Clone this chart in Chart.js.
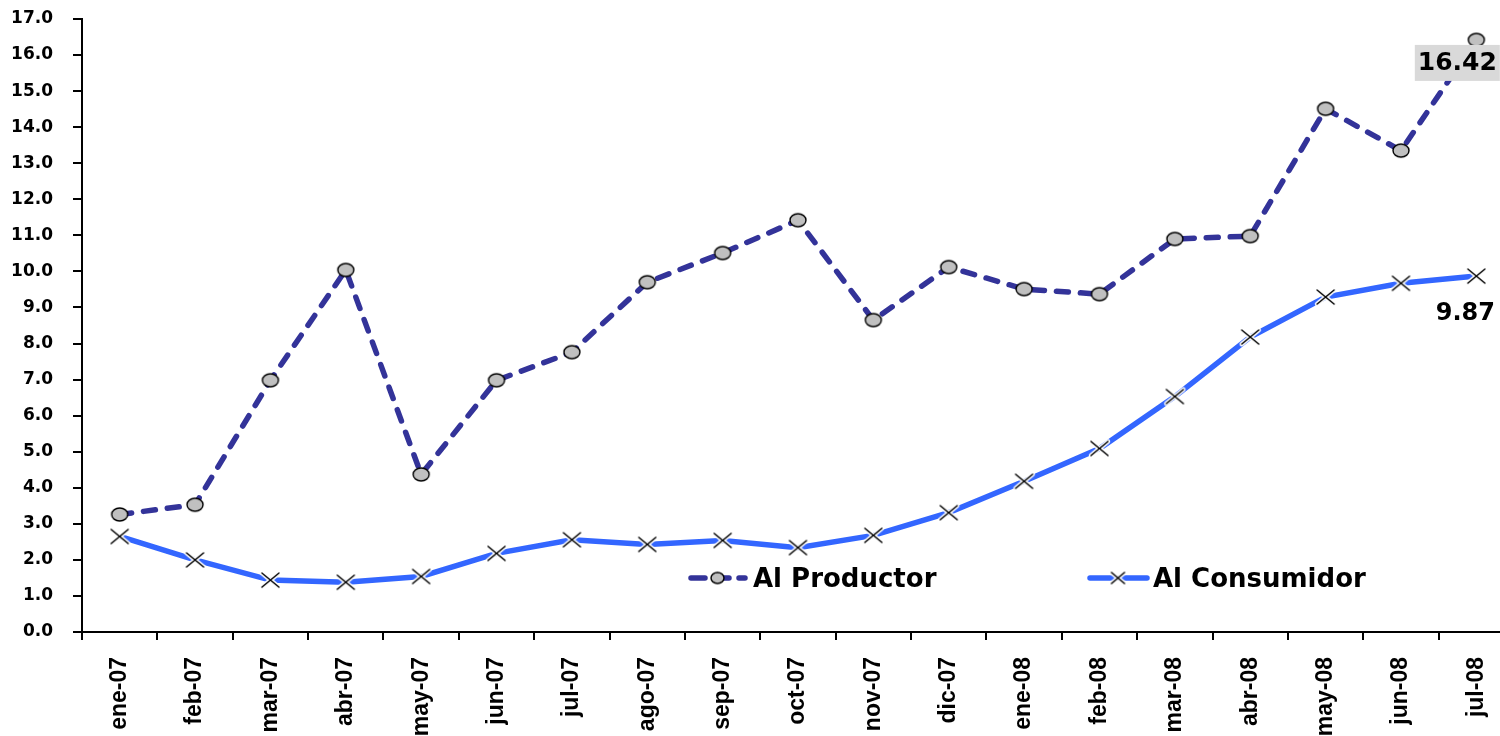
<!DOCTYPE html>
<html><head><meta charset="utf-8">
<script src="https://cdn.jsdelivr.net/npm/chart.js@4/dist/chart.umd.min.js"></script>
<style>
html,body{margin:0;padding:0;background:#fff;overflow:hidden}
#clip{position:relative;width:1500px;height:736px;overflow:hidden}
canvas{position:absolute;left:0;top:0;display:block}
</style>
</head><body><div id="clip"><canvas id="c" width="1516" height="736" style="width:1516px;height:736px"></canvas></div>
<script>
const categories = ['ene-07','feb-07','mar-07','abr-07','may-07','jun-07','jul-07','ago-07','sep-07','oct-07','nov-07','dic-07','ene-08','feb-08','mar-08','abr-08','may-08','jun-08','jul-08'];
const alProductor = [3.26,3.53,6.98,10.04,4.37,6.98,7.76,9.70,10.51,11.42,8.65,10.12,9.51,9.37,10.90,10.98,14.51,13.35,16.42];
const alConsumidor = [2.65,2.00,1.44,1.38,1.54,2.18,2.56,2.43,2.54,2.34,2.68,3.31,4.18,5.09,6.53,8.18,9.29,9.67,9.87];
const seriesNames = ['Al Productor','Al Consumidor'];
const yMin = 0, yMax = 17, yStep = 1;

const PROD_COLOR = '#333399';
const CONS_COLOR = '#3366FF';
const HFONT = '"DejaVu Sans", sans-serif';

function circleMarker(w, h) {
  const c = document.createElement('canvas');
  c.width = w + 4; c.height = h + 4;
  const x = c.getContext('2d');
  x.beginPath();
  x.ellipse(c.width/2, c.height/2, w/2, h/2, 0, 0, Math.PI*2);
  x.fillStyle = '#C0C0C0'; x.fill();
  x.lineWidth = 1.4; x.strokeStyle = '#000'; x.stroke();
  return c;
}
function crossMarker(w, h) {
  const c = document.createElement('canvas');
  c.width = w + 8; c.height = h + 8;
  const x = c.getContext('2d');
  const cx = c.width/2, cy = c.height/2;
  const draw = () => { x.beginPath(); x.moveTo(cx-w/2, cy-h/2); x.lineTo(cx+w/2, cy+h/2); x.moveTo(cx+w/2, cy-h/2); x.lineTo(cx-w/2, cy+h/2); x.stroke(); };
  x.lineCap = 'round';
  x.strokeStyle = '#fff'; x.lineWidth = 4.5; draw();
  x.strokeStyle = '#000'; x.lineWidth = 1.5; draw();
  return c;
}
const circ = circleMarker(16, 13);
const cross = crossMarker(17, 14);
const circLegend = circleMarker(13, 11);
const crossLegend = crossMarker(13, 11);

const extras = {
  id: 'extras',
  afterDatasetsDraw(chart) {
    const ctx = chart.ctx;
    const m0 = chart.getDatasetMeta(0).data;
    const m1 = chart.getDatasetMeta(1).data;
    const p0 = m0[m0.length-1], p1 = m1[m1.length-1];
    ctx.save();
    ctx.font = 'bold 25px ' + HFONT;
    ctx.textAlign = 'center'; ctx.textBaseline = 'middle';
    const t0 = alProductor[alProductor.length-1].toFixed(2);
    const bx = p0.x - 19, by = p0.y + 23;
    ctx.fillStyle = '#D9D9D9';
    ctx.fillRect(bx - 42.5, by - 18, 85, 36);
    ctx.fillStyle = '#000';
    ctx.fillText(t0, bx, by + 1);
    ctx.font = 'bold 24px ' + HFONT;
    const t1 = alConsumidor[alConsumidor.length-1].toFixed(2);
    ctx.fillText(t1, p1.x - 11, p1.y + 38);

    // legend
    const ly = 578;
    ctx.lineCap = 'round';
    ctx.strokeStyle = PROD_COLOR; ctx.lineWidth = 5.5;
    ctx.setLineDash([14, 10]);
    ctx.beginPath(); ctx.moveTo(691, ly); ctx.lineTo(745, ly); ctx.stroke();
    ctx.setLineDash([]);
    ctx.drawImage(circLegend, 717.5 - circLegend.width/2, ly - circLegend.height/2);
    ctx.font = 'bold 26px ' + HFONT;
    ctx.textAlign = 'left'; ctx.textBaseline = 'alphabetic';
    ctx.fillStyle = '#000';
    ctx.fillText(seriesNames[0], 753, 587);

    ctx.strokeStyle = CONS_COLOR; ctx.lineWidth = 5.5; ctx.lineCap = 'round';
    ctx.beginPath(); ctx.moveTo(1090, ly); ctx.lineTo(1147, ly); ctx.stroke();
    ctx.drawImage(crossLegend, 1118 - crossLegend.width/2, ly - crossLegend.height/2);
    ctx.fillText(seriesNames[1], 1153, 587);
    ctx.restore();
  }
};

new Chart(document.getElementById('c'), {
  type: 'line',
  data: {
    labels: categories,
    datasets: [
      { label: seriesNames[0], data: alProductor, borderColor: PROD_COLOR, borderWidth: 5.5,
        borderDash: [12, 12], borderCapStyle: 'round', pointStyle: circ, pointRadius: 8, tension: 0, fill: false },
      { label: seriesNames[1], data: alConsumidor, borderColor: CONS_COLOR, borderWidth: 5.5,
        pointStyle: cross, pointRadius: 8, tension: 0, fill: false }
    ]
  },
  options: {
    responsive: false, animation: false, devicePixelRatio: 1,
    layout: { autoPadding: false, padding: { top: 19, left: 0, right: 2, bottom: 0 } },
    plugins: { legend: { display: false }, tooltip: { enabled: false } },
    scales: {
      x: {
        offset: true,
        grid: { offset: true, drawOnChartArea: false, drawTicks: true, tickLength: 8, color: '#000', lineWidth: 2 },
        border: { color: '#000', width: 2 },
        ticks: { minRotation: 90, maxRotation: 90, autoSkip: false, padding: 17, color: '#000',
          font: { family: '"Liberation Sans", Arial, sans-serif', weight: 'bold', size: 23 } },
        afterFit(s) { s.height = 104; s.paddingLeft = 0; s.paddingRight = 0; }
      },
      y: {
        min: yMin, max: yMax,
        grid: { drawOnChartArea: false, drawTicks: true, tickLength: 9, color: '#000', lineWidth: 2 },
        border: { color: '#000', width: 2 },
        ticks: { stepSize: yStep, padding: 20, color: '#000',
          font: { family: HFONT, weight: 'bold', size: 17 },
          callback: v => Number(v).toFixed(1) },
        afterFit(s) { s.width = 82; s.paddingTop = 0; s.paddingBottom = 0; }
      }
    }
  },
  plugins: [extras]
});
</script>
</body></html>
